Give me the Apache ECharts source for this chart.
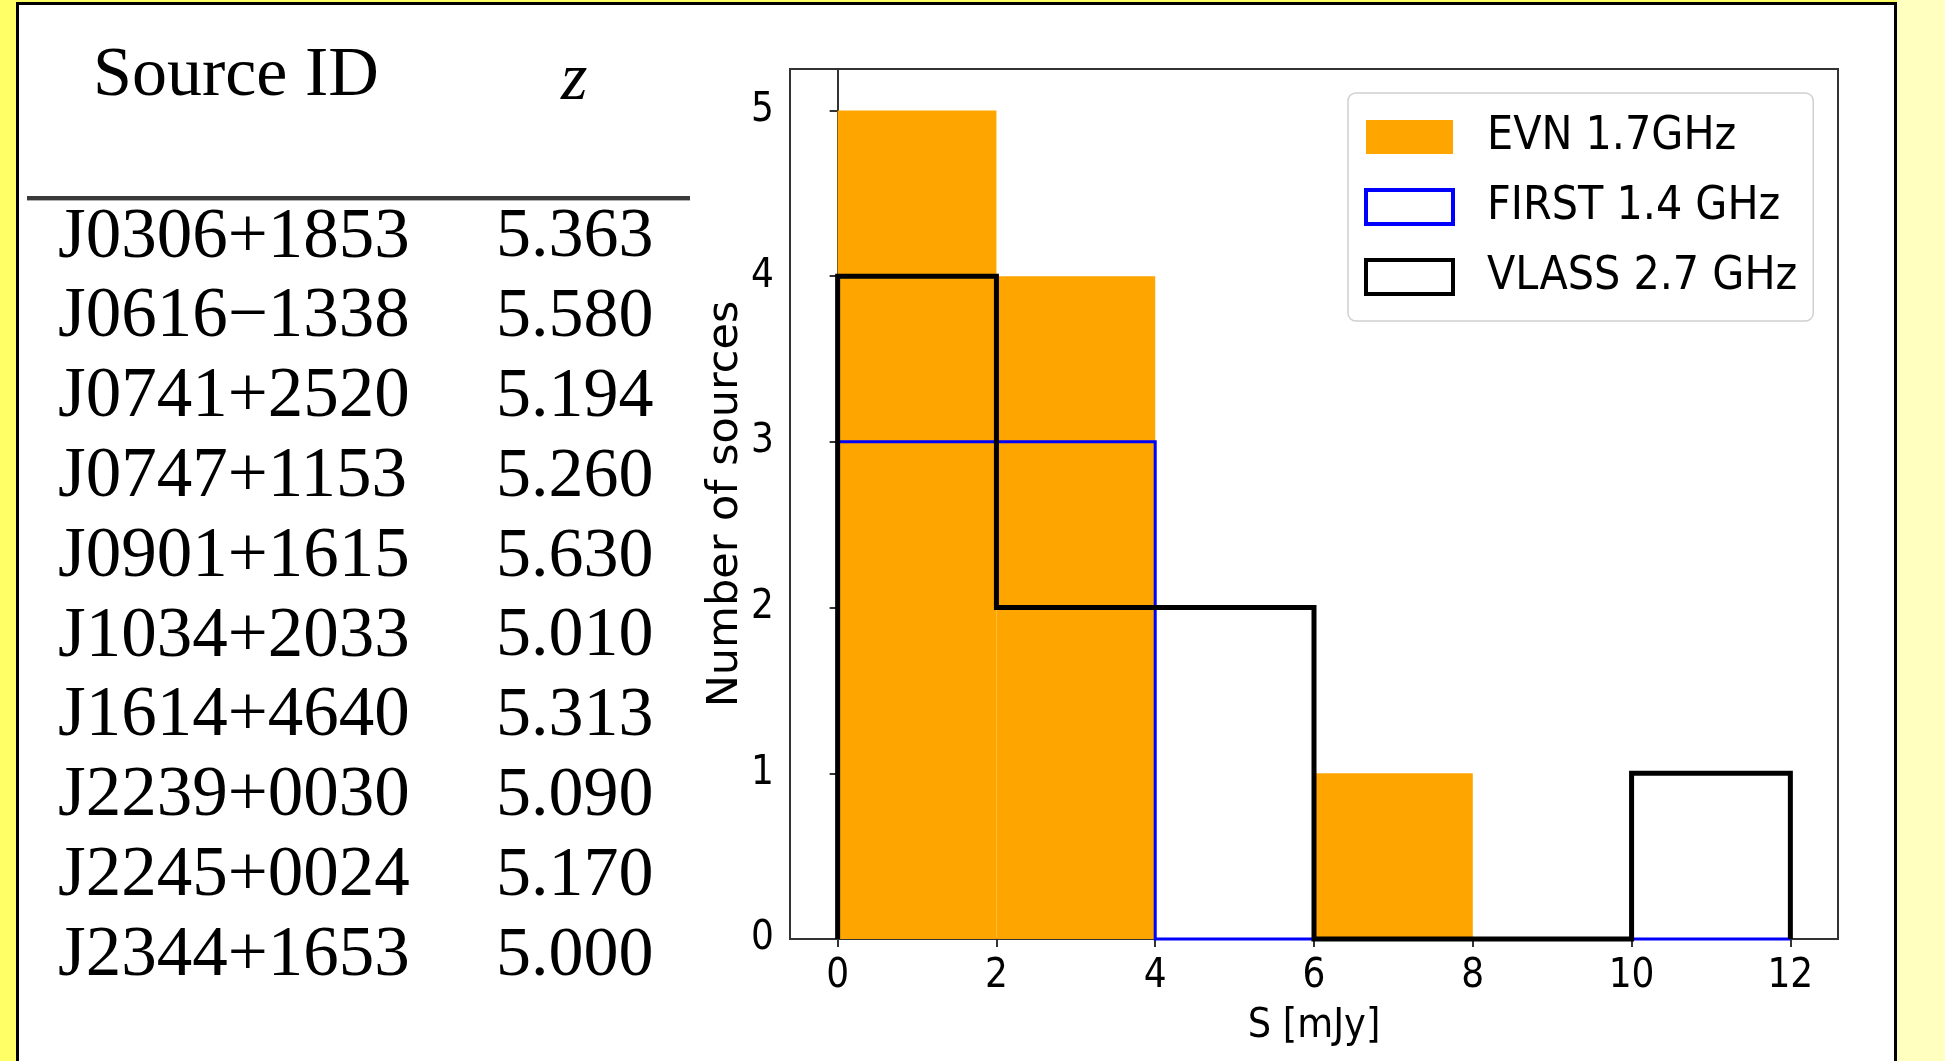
<!DOCTYPE html>
<html>
<head>
<meta charset="utf-8">
<script src="https://cdn.jsdelivr.net/npm/echarts@6/dist/echarts.min.js"></script>
<style>
  html, body { margin: 0; padding: 0; }
  body { width: 1945px; height: 1061px; background: #ffffc0; position: relative; overflow: hidden; }
  #stripLeft { position: absolute; left: 0; top: 0; width: 16px; height: 1061px; background: #ffff66; }
  #stripTop { position: absolute; left: 0; top: 0; width: 1897px; height: 2px; background: #ffff66; }
  #panel { position: absolute; left: 16px; top: 2px; width: 1875px; height: 1100px;
           background: #ffffff; border: 3px solid #000; box-sizing: content-box; }
  #table { position: absolute; left: 0; top: 0; width: 720px; height: 1061px;
           font-family: "Liberation Serif", "DejaVu Serif", serif; color: #000; }
  .cell { position: absolute; white-space: nowrap; line-height: 1; }
  #rule { position: absolute; left: 27px; top: 196px; width: 663px; height: 4px; background: #3a3a3a;
          border-bottom: 1px solid #b0b0b0; }
  #chart { position: absolute; left: 0; top: 0; width: 1945px; height: 1061px; }
</style>
</head>
<body>
<div id="stripLeft"></div>
<div id="stripTop"></div>
<div id="panel"></div>
<div id="table"></div>
<div id="chart"></div>
<script>
// Source list
const sourceIds = ['J0306+1853', 'J0616\u22121338', 'J0741+2520', 'J0747+1153', 'J0901+1615',
                   'J1034+2033', 'J1614+4640', 'J2239+0030', 'J2245+0024', 'J2344+1653'];
const redshifts = ['5.363', '5.580', '5.194', '5.260', '5.630',
                   '5.010', '5.313', '5.090', '5.170', '5.000'];

// Flux density histograms (bin width 2 mJy)
const binEdges = [0, 2, 4, 6, 8, 10, 12];
const evnCounts = [5, 4, 0, 1, 0, 0];
const firstCounts = [3, 3, 0, 0, 0, 0];
const vlassCounts = [4, 2, 2, 0, 0, 1];

const xTicks = [0, 2, 4, 6, 8, 10, 12];
const yTicks = [0, 1, 2, 3, 4, 5];

// ---- table ----
const table = document.getElementById('table');
function addCell(text, left, baseline, size, italic) {
  const d = document.createElement('div');
  d.className = 'cell';
  d.textContent = text;
  d.style.left = left + 'px';
  d.style.fontSize = size + 'px';
  d.style.top = (baseline - 0.8375 * size) + 'px';
  if (italic) d.style.fontStyle = 'italic';
  table.appendChild(d);
}
addCell('Source ID', 93, 96, 70, false);
addCell('z', 561, 99, 68, true);
const rule = document.createElement('div');
rule.id = 'rule';
table.appendChild(rule);
sourceIds.forEach((id, i) => {
  const base = 257 + 79.8 * i;
  addCell(id, 58, base, 71, false);
  addCell(redshifts[i], 496, base, 70, false);
});

// ---- histogram ----
function stepPoints(edges, counts) {
  const pts = [[edges[0], 0]];
  counts.forEach((c, i) => { pts.push([edges[i], c]); pts.push([edges[i + 1], c]); });
  pts.push([edges[edges.length - 1], 0]);
  return pts;
}
const evnBins = evnCounts.map((c, i) => [binEdges[i], binEdges[i + 1], c]);

const FONT = '"DejaVu Sans", sans-serif';
const FONT_C = '"DejaVu Sans Condensed", "DejaVu Sans", sans-serif';
const AX = '#333333';
const tickLabel = { fontFamily: FONT_C, fontSize: 40, color: '#000000' };
const chart = echarts.init(document.getElementById('chart'), null, { renderer: 'canvas' });
chart.setOption({
  animation: false,
  backgroundColor: 'transparent',
  grid: {
    left: 790, top: 69, width: 1048, height: 870,
    show: true, borderColor: AX, borderWidth: 2, backgroundColor: '#ffffff',
    containLabel: false, outerBoundsMode: 'none'
  },
  legend: {
    orient: 'vertical',
    left: 1348, top: 93,
    padding: [20, 16, 20, 16],
    itemWidth: 87, itemHeight: 34, itemGap: 22,
    backgroundColor: 'rgba(255,255,255,0.8)',
    borderColor: '#d0d0d0', borderWidth: 1.5, borderRadius: 8,
    textStyle: { fontFamily: FONT_C, fontSize: 46, color: '#000', lineHeight: 48, padding: [0, 0, 0, 29] },
    selectedMode: false,
    data: [
      { name: 'EVN 1.7GHz', icon: 'rect', itemStyle: { color: '#ffa500', borderWidth: 0 } },
      { name: 'FIRST 1.4 GHz', icon: 'rect', itemStyle: { color: '#ffffff', borderColor: '#0000ff', borderWidth: 4 } },
      { name: 'VLASS 2.7 GHz', icon: 'rect', itemStyle: { color: '#ffffff', borderColor: '#000000', borderWidth: 4 } }
    ]
  },
  xAxis: {
    type: 'value', min: -0.6, max: 12.6,
    name: 'S [mJy]', nameLocation: 'middle', nameGap: 67, nameMoveOverlap: false,
    nameTextStyle: { fontFamily: FONT_C, fontSize: 41, color: '#000' },
    axisLine: { show: true, onZero: false, lineStyle: { color: AX, width: 2 } },
    axisTick: { show: true, length: 8, customValues: xTicks, lineStyle: { color: AX, width: 2 } },
    axisLabel: Object.assign({ customValues: xTicks, margin: 18 }, tickLabel),
    splitLine: { show: false }
  },
  yAxis: {
    type: 'value', min: 0, max: 5.25,
    name: 'Number of sources', nameLocation: 'middle', nameGap: 43, nameRotate: 90, nameMoveOverlap: false,
    nameTextStyle: { fontFamily: FONT, fontSize: 43, color: '#000' },
    axisLine: { show: true, lineStyle: { color: AX, width: 2 } },
    axisTick: { show: true, length: 8, customValues: yTicks, lineStyle: { color: AX, width: 2 } },
    axisLabel: Object.assign({ customValues: yTicks, margin: 16 }, tickLabel),
    splitLine: { show: false }
  },
  series: [
    {
      name: 'EVN 1.7GHz',
      type: 'custom',
      itemStyle: { color: '#ffa500' },
      encode: { x: [0, 1], y: 2 },
      data: evnBins,
      z: 2,
      renderItem: function (params, api) {
        const p0 = api.coord([api.value(0), api.value(2)]);
        const p1 = api.coord([api.value(1), 0]);
        return {
          type: 'rect',
          shape: { x: p0[0], y: p0[1], width: p1[0] - p0[0], height: p1[1] - p0[1] },
          style: { fill: '#ffa500' }
        };
      }
    },
    {
      name: 'FIRST 1.4 GHz',
      type: 'line',
      data: stepPoints(binEdges, firstCounts),
      showSymbol: false, symbol: 'none', clip: false, z: 3,
      itemStyle: { color: '#0000ff' },
      lineStyle: { color: '#0000ff', width: 3, join: 'miter', cap: 'butt' }
    },
    {
      name: 'VLASS 2.7 GHz',
      type: 'line',
      data: stepPoints(binEdges, vlassCounts),
      showSymbol: false, symbol: 'none', clip: false, z: 4,
      itemStyle: { color: '#000000' },
      lineStyle: { color: '#000000', width: 5, join: 'miter', cap: 'butt' }
    }
  ]
});
</script>
</body>
</html>
